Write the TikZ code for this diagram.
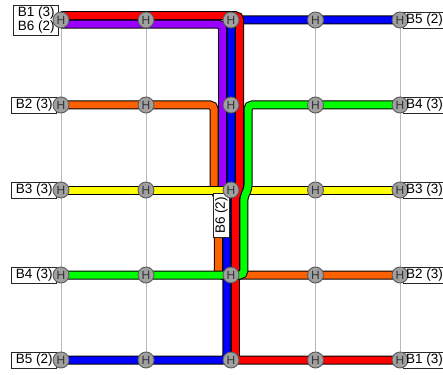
\documentclass[tikz,border=0pt]{standalone}
\usepackage{fontspec}
\setmainfont{Liberation Sans}
\definecolor{cRed}{RGB}{255,0,0}
\definecolor{cBlue}{RGB}{0,0,255}
\definecolor{cPurple}{RGB}{153,0,255}
\definecolor{cOrange}{RGB}{255,96,0}
\definecolor{cYellow}{RGB}{255,255,0}
\definecolor{cGreen}{RGB}{0,255,0}
\definecolor{hubFill}{RGB}{160,160,160}
\definecolor{hubLine}{RGB}{90,90,90}
\definecolor{gridCol}{RGB}{185,185,185}
\tikzset{
  route/.style={draw=black, line width=1pt, double=#1, double distance=7pt, rounded corners=4pt},
  gridline/.style={draw=gridCol, line width=0.8pt},
  hub/.style={circle, fill=hubFill, draw=hubLine, line width=0.9pt, minimum size=16pt, inner sep=0pt,
              text=black!80, font=\fontsize{12pt}{12pt}\selectfont},
  lblfont/.style={font=\fontsize{13.5pt}{13.5pt}\selectfont},
  lbl/.style={lblfont, draw=black!85, fill=white, line width=0.8pt, inner xsep=4pt, inner ysep=1.5pt,
              minimum height=16pt},
  lblbox/.style={draw=black!85, fill=white, line width=0.8pt},
  rlbl/.style={lblfont, anchor=west, inner xsep=0pt, inner ysep=1.5pt}
}
\begin{document}
\begin{tikzpicture}[x=1pt, y=-1pt]
\useasboundingbox (0,0) rectangle (443,374);
\clip (0,0) rectangle (443,374);
% grid positions
\foreach \i/\xx in {0/61,1/146,2/231,3/315.5,4/400}{
  \foreach \j/\yy in {0/20,1/105,2/190,3/275,4/360}{
    \coordinate (p\i\j) at (\xx,\yy);
  }
}
% grid lines
\foreach \i in {0,...,4}{
  \draw[gridline] (p\i0) -- (p\i4);
  \draw[gridline] (p0\i) -- (p4\i);
}
% routes
% B2 (3) orange
\draw[route=cOrange] (p01) -- ([xshift=-17pt]p21) -- ([xshift=-17pt,yshift=1pt]p22)
  -- ([xshift=-12.75pt,yshift=-7pt]p22) -- ([xshift=-12.75pt]p23) -- (p43);
% B6 (2) purple
\draw[route=cPurple] ([yshift=-4.25pt]p00) -- ([xshift=-8.5pt,yshift=-4.25pt]p20) -- ([xshift=-8.5pt]p22);
% B3 (3) yellow
\draw[route=cYellow] (p02) -- (p42);
% B5 (2) blue
\draw[route=cBlue] (p40) -- (p20) -- ([yshift=1pt]p22) -- ([xshift=-4.25pt,yshift=-7pt]p22)
  -- ([xshift=-4.25pt]p24) -- (p04);
% B1 (3) red
\draw[route=cRed] ([yshift=4.25pt]p00) -- ([xshift=8.5pt,yshift=4.25pt]p20) -- ([xshift=8.5pt,yshift=1pt]p22)
  -- ([xshift=4.25pt,yshift=-7pt]p22) -- ([xshift=4.25pt]p24) -- (p44);
% B4 (3) green
\draw[route=cGreen] (p03) -- ([xshift=12.75pt]p23) -- ([xshift=12.75pt,yshift=-7pt]p22)
  -- ([xshift=17pt,yshift=1pt]p22) -- ([xshift=17pt]p21) -- (p41);
% left labels
\node[lbl, anchor=east, align=left, inner ysep=2pt] (lB1B6) at ([xshift=-2pt]p00) {B1 (3)\\B6 (2)};
\node[lbl, anchor=east] (lB2l) at ([xshift=-4pt]p01) {B2 (3)};
\node[lbl, anchor=east] (lB3l) at ([xshift=-4pt]p02) {B3 (3)};
\node[lbl, anchor=east] (lB4l) at ([xshift=-4pt]p03) {B4 (3)};
\node[lbl, anchor=east] (lB5l) at ([xshift=-4pt]p04) {B5 (2)};
% right label boxes (run past the right edge)
\foreach \j in {0,...,4}{
  \path[lblbox] ([xshift=3pt,yshift=8pt]p4\j) rectangle ([xshift=50pt,yshift=-8pt]p4\j);
}
% centre label
\node[lbl, rotate=90] (lB6c) at ([xshift=-9.5pt,yshift=-25.5pt]p22) {B6 (2)};
% hubs
\foreach \i in {0,...,4}{
  \foreach \j in {0,...,4}{
    \node[hub] (h\i\j) at (p\i\j) {H};
  }
}
% right label texts
\foreach \j/\txt in {0/B5 (2),1/B4 (3),2/B3 (3),3/B2 (3),4/B1 (3)}{
  \node[rlbl] (lr\j) at ([xshift=6pt]p4\j) {\txt};
}
\end{tikzpicture}
\end{document}
